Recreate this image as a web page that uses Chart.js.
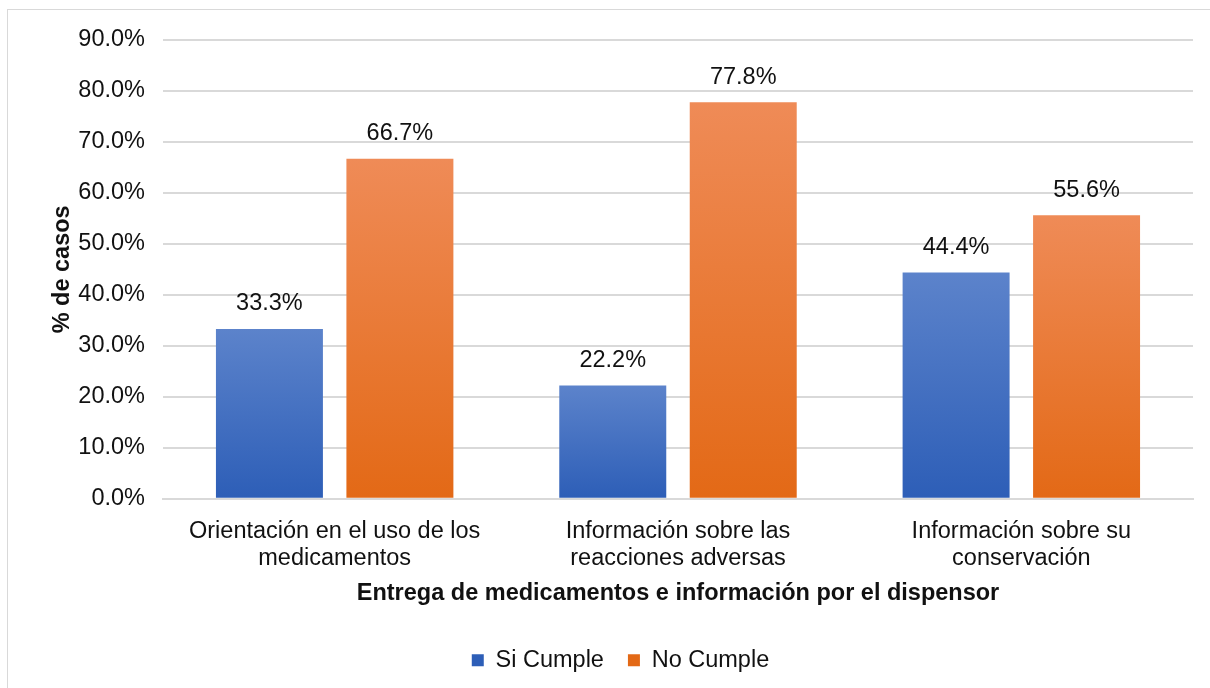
<!DOCTYPE html>
<html>
<head>
<meta charset="utf-8">
<script src="https://cdn.jsdelivr.net/npm/chart.js@4.4.1/dist/chart.umd.min.js"></script>
<style>
  html, body { margin: 0; padding: 0; background: #fff; overflow: hidden; }
  #frame { position: absolute; left: 7px; top: 9px; width: 1220px; height: 700px; border: 1px solid #d9d9d9; }
  #wrap { position: absolute; left: 0; top: 0; width: 1210px; height: 688px; }
</style>
</head>
<body>
<div id="frame"></div>
<div id="wrap"><canvas id="chart"></canvas></div>
<script>
const categories = [
  ["Orientación en el uso de los", "medicamentos"],
  ["Información sobre las", "reacciones adversas"],
  ["Información sobre su", "conservación"],
];
const siCumple = [33.3, 22.2, 44.4];
const noCumple = [66.7, 77.8, 55.6];
const seriesNames = ["Si Cumple", "No Cumple"];

const FONT = "'Liberation Sans', Arial, sans-serif";
const SIZE = 23.5;

// per-bar vertical gradient, lighter at the top
function barGradient(top, bottom) {
  return function (ctx) {
    const chart = ctx.chart;
    if (!chart.chartArea || ctx.type !== "data") return bottom;
    const y = chart.scales.y;
    const y0 = y.getPixelForValue(ctx.raw);
    const y1 = y.getPixelForValue(0);
    const g = chart.ctx.createLinearGradient(0, y0, 0, y1);
    g.addColorStop(0, top);
    g.addColorStop(1, bottom);
    return g;
  };
}

const valueLabels = {
  id: "valueLabels",
  afterDatasetsDraw(chart) {
    const c = chart.ctx;
    c.save();
    c.font = SIZE + "px " + FONT;
    c.fillStyle = "#111";
    c.textAlign = "center";
    c.textBaseline = "middle";
    chart.data.datasets.forEach((ds, i) => {
      chart.getDatasetMeta(i).data.forEach((bar, j) => {
        c.fillText(ds.data[j].toFixed(1) + "%", bar.x, bar.y - 25);
      });
    });
    c.restore();
  },
};

new Chart(document.getElementById("chart").getContext("2d"), {
  type: "bar",
  data: {
    labels: categories,
    datasets: [
      {
        label: seriesNames[0],
        data: siCumple,
        backgroundColor: barGradient("#5c83cb", "#2d5eb7"),
        categoryPercentage: 0.76,
        barPercentage: 0.82,
      },
      {
        label: seriesNames[1],
        data: noCumple,
        backgroundColor: barGradient("#ef8b57", "#e36916"),
        categoryPercentage: 0.76,
        barPercentage: 0.82,
      },
    ],
  },
  options: {
    responsive: true,
    maintainAspectRatio: false,
    animation: false,
    layout: { padding: { top: 40, left: 48, right: 17, bottom: 6 } },
    plugins: {
      tooltip: { enabled: false },
      legend: {
        position: "bottom",
        labels: {
          color: "#111",
          font: { family: FONT, size: SIZE },
          boxWidth: 12,
          boxHeight: 12,
          padding: 24,
          useBorderRadius: false,
        },
      },
    },
    scales: {
      x: {
        grid: { display: false },
        border: { color: "#d9d9d9", width: 2 },
        ticks: {
          color: "#111",
          font: { family: FONT, size: SIZE, lineHeight: 1.12 },
          padding: 12,
          maxRotation: 0,
        },
        title: {
          display: true,
          text: "Entrega de medicamentos e información por el dispensor",
          color: "#111",
          font: { family: FONT, size: SIZE, weight: "bold" },
          padding: { top: -4, bottom: 17 },
        },
      },
      y: {
        min: 0,
        max: 90,
        afterFit: (scale) => { scale.width = 115; },
        ticks: {
          stepSize: 10,
          color: "#111",
          font: { family: FONT, size: SIZE },
          padding: 18,
          callback: (v) => v.toFixed(1) + "%",
        },
        grid: { color: "#d9d9d9", lineWidth: 2, drawTicks: false },
        border: { display: false },
        title: {
          display: true,
          text: "% de casos",
          color: "#111",
          font: { family: FONT, size: SIZE, weight: "bold" },
          padding: { top: 0, bottom: 1 },
        },
      },
    },
  },
  plugins: [valueLabels],
});
</script>
</body>
</html>
